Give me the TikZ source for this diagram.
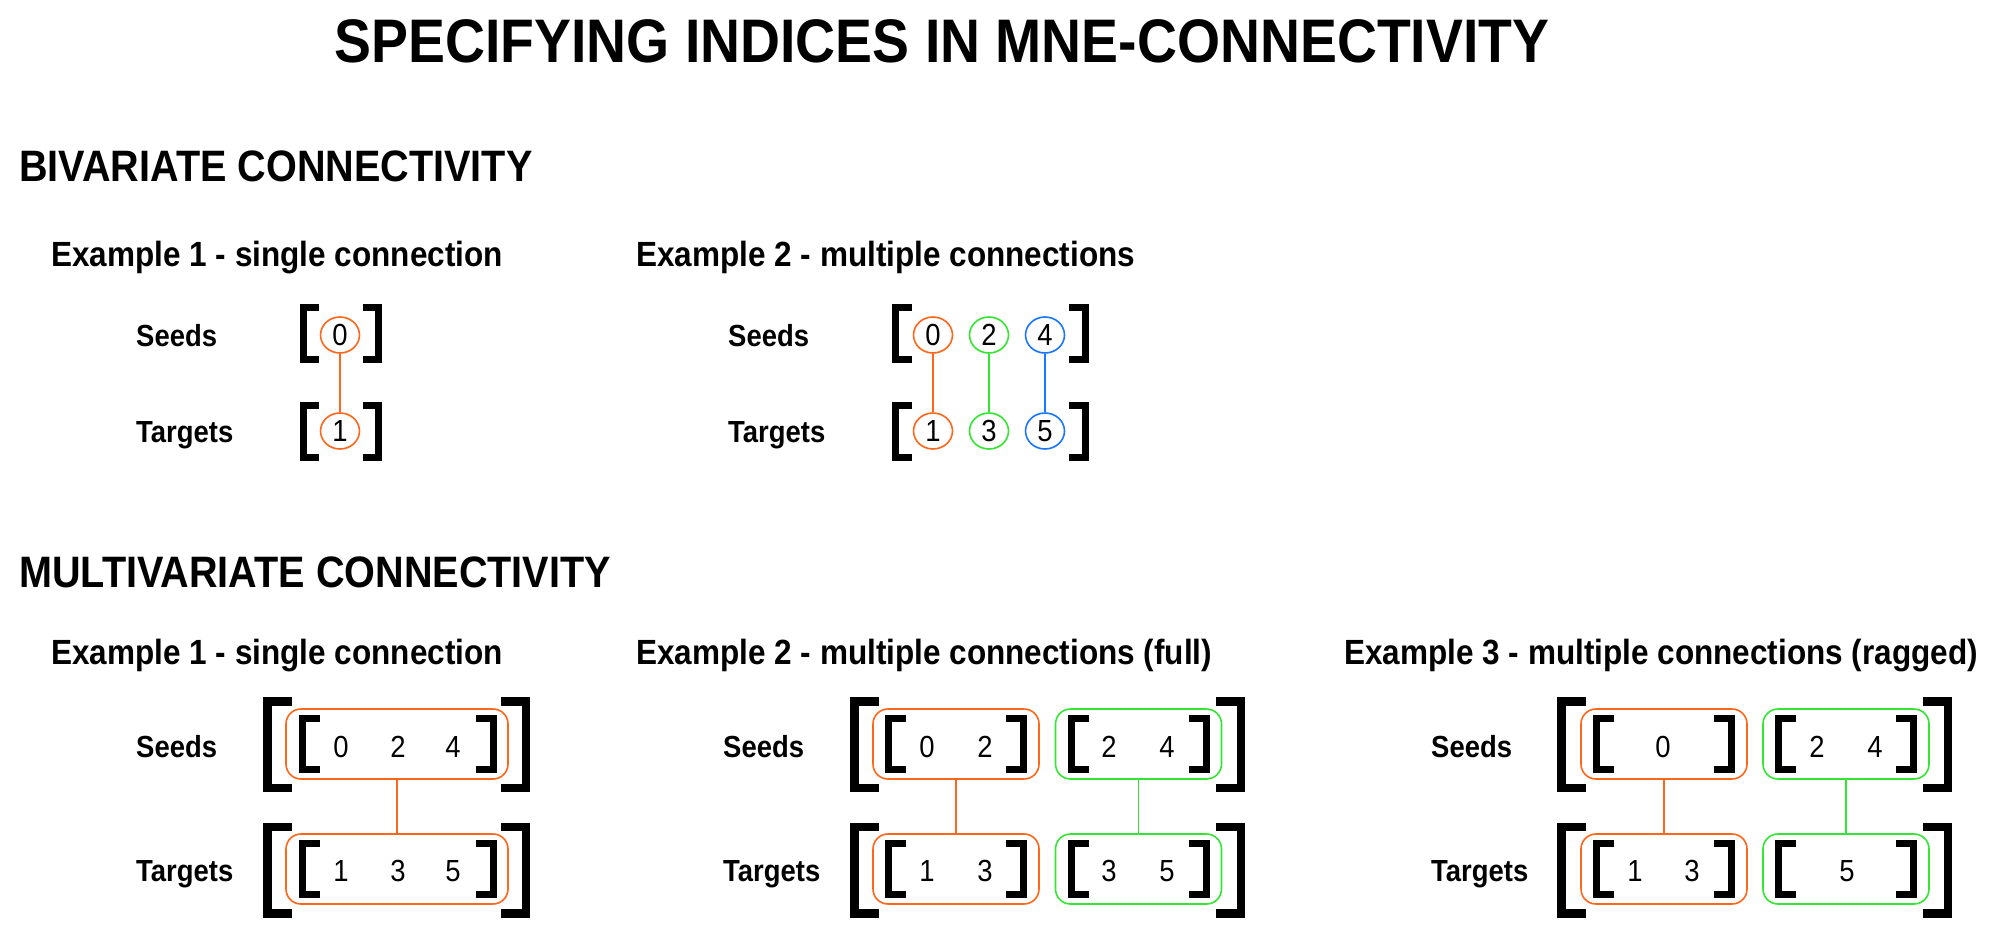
\documentclass[tikz,border=0pt]{standalone}
\usepackage{fontspec}
\setmainfont{Liberation Sans}[FakeStretch=0.9]
\usetikzlibrary{shapes.geometric}

\definecolor{conorange}{RGB}{255,102,26}
\definecolor{congreen}{RGB}{51,230,51}
\definecolor{conblue}{RGB}{26,117,255}

% square brackets round a row: half width, half height, serif length
\tikzset{
pics/brackets/.style n args={3}{code={
\draw (-#1+#3,-#2) -- (-#1,-#2) -- (-#1,#2) -- (-#1+#3,#2)
      (#1-#3,-#2) -- (#1,-#2) -- (#1,#2) -- (#1-#3,#2);
}}
}

\begin{document}
\begin{tikzpicture}[
x=1pt, y=-1pt,
every node/.style={inner sep=0pt},
heading/.style={font=\fontsize{61.5}{70}\selectfont\bfseries, anchor=base},
section/.style={font=\fontsize{44}{50}\selectfont\bfseries, anchor=base west},
example/.style={font=\fontsize{35}{42}\selectfont\bfseries, anchor=base west},
rowname/.style={font=\fontsize{30.5}{36}\selectfont\bfseries, anchor=base west},
index/.style={font=\fontsize{30.5}{34}\selectfont},
ring/.style={ellipse, draw=#1, line width=1.6pt, minimum width=39pt, minimum height=36pt, index},
group/.style={draw=#1, line width=1.6pt, rounded corners=15pt, minimum height=70pt},
link/.style={draw=#1, line width=1.6pt},
brk/.style={line width=7pt},
bigbrk/.style={line width=8.5pt}
]
\useasboundingbox (0,0) rectangle (2000,937);

% ------------------------
% Titles
% ------------------------
\node[heading] (title) at (942,62) {SPECIFYING INDICES IN MNE-CONNECTIVITY};
\node[section] (bivar) at (19,181) {BIVARIATE CONNECTIVITY};
\node[section] (multivar) at (19,587) {MULTIVARIATE CONNECTIVITY};

% ------------------------
% Bivariate, example 1
% ------------------------
\node[example] (bex1) at (51,266) {Example 1 - single connection};
\node[rowname] (bex1seeds) at (136,346) {Seeds};
\node[rowname] (bex1targets) at (136,442) {Targets};

\node[ring=conorange] (b1s0) at (340,335) {0};
\node[ring=conorange] (b1t1) at (340,431) {1};
\draw[link=conorange] (b1s0) -- (b1t1);

\pic[brk] at (341,333.5) {brackets={37.5}{26}{15.5}};
\pic[brk] at (341,431.5) {brackets={37.5}{26}{15.5}};

% ------------------------
% Bivariate, example 2
% ------------------------
\node[example] (bex2) at (636,266) {Example 2 - multiple connections};
\node[rowname] (bex2seeds) at (728,346) {Seeds};
\node[rowname] (bex2targets) at (728,442) {Targets};

\node[ring=conorange] (b2s0) at (933,335) {0};
\node[ring=congreen] (b2s2) at (989,335) {2};
\node[ring=conblue] (b2s4) at (1045,335) {4};
\node[ring=conorange] (b2t1) at (933,431) {1};
\node[ring=congreen] (b2t3) at (989,431) {3};
\node[ring=conblue] (b2t5) at (1045,431) {5};
\draw[link=conorange] (b2s0) -- (b2t1);
\draw[link=congreen] (b2s2) -- (b2t3);
\draw[link=conblue] (b2s4) -- (b2t5);

\pic[brk] at (990.5,333.5) {brackets={95}{26}{16.5}};
\pic[brk] at (990.5,431.5) {brackets={95}{26}{16.5}};

% ------------------------
% Multivariate, example 1
% ------------------------
\node[example] (mex1) at (51,664) {Example 1 - single connection};
\node[rowname] (mex1seeds) at (136,757) {Seeds};
\node[rowname] (mex1targets) at (136,881) {Targets};

\node[group=conorange, minimum width=222pt] (m1s) at (397,744) {};
\node[group=conorange, minimum width=222pt] (m1t) at (397,869) {};
\draw[link=conorange] (m1s) -- (m1t);

\node[index] (m1s0) at (341,746.5) {0};
\node[index] (m1s2) at (398,746.5) {2};
\node[index] (m1s4) at (453,746.5) {4};
\node[index] (m1t1) at (341,871) {1};
\node[index] (m1t3) at (398,871) {3};
\node[index] (m1t5) at (453,871) {5};

\pic[brk] at (398,744) {brackets={95.5}{25.5}{17.5}};
\pic[brk] at (398,869) {brackets={95.5}{25.5}{17.5}};
\pic[bigbrk] at (396.5,744.5) {brackets={129.25}{43.25}{24.75}};
\pic[bigbrk] at (396.5,870) {brackets={129.25}{43.25}{24.75}};

% ------------------------
% Multivariate, example 2
% ------------------------
\node[example] (mex2) at (636,664) {Example 2 - multiple connections (full)};
\node[rowname] (mex2seeds) at (723,757) {Seeds};
\node[rowname] (mex2targets) at (723,881) {Targets};

\node[group=conorange, minimum width=166pt] (m2sa) at (956,744) {};
\node[group=congreen, minimum width=166pt] (m2sb) at (1138.5,744) {};
\node[group=conorange, minimum width=166pt] (m2ta) at (956,869) {};
\node[group=congreen, minimum width=166pt] (m2tb) at (1138.5,869) {};
\draw[link=conorange] (m2sa) -- (m2ta);
\draw[link=congreen] (m2sb) -- (m2tb);

\node[index] (m2s0) at (927,746.5) {0};
\node[index] (m2s2) at (985,746.5) {2};
\node[index] (m2s2b) at (1109,746.5) {2};
\node[index] (m2s4) at (1167,746.5) {4};
\node[index] (m2t1) at (927,871) {1};
\node[index] (m2t3) at (985,871) {3};
\node[index] (m2t3b) at (1109,871) {3};
\node[index] (m2t5) at (1167,871) {5};

\pic[brk] at (956,744) {brackets={67.5}{25.5}{17.5}};
\pic[brk] at (1138.5,744) {brackets={67.5}{25.5}{17.5}};
\pic[brk] at (956,869) {brackets={67.5}{25.5}{17.5}};
\pic[brk] at (1138.5,869) {brackets={67.5}{25.5}{17.5}};
\pic[bigbrk] at (1047.5,744.5) {brackets={193.25}{43.25}{24.75}};
\pic[bigbrk] at (1047.5,870) {brackets={193.25}{43.25}{24.75}};

% ------------------------
% Multivariate, example 3
% ------------------------
\node[example] (mex3) at (1344,664) {Example 3 - multiple connections (ragged)};
\node[rowname] (mex3seeds) at (1431,757) {Seeds};
\node[rowname] (mex3targets) at (1431,881) {Targets};

\node[group=conorange, minimum width=166pt] (m3sa) at (1664,744) {};
\node[group=congreen, minimum width=166pt] (m3sb) at (1846,744) {};
\node[group=conorange, minimum width=166pt] (m3ta) at (1664,869) {};
\node[group=congreen, minimum width=166pt] (m3tb) at (1846,869) {};
\draw[link=conorange] (m3sa) -- (m3ta);
\draw[link=congreen] (m3sb) -- (m3tb);

\node[index] (m3s0) at (1663,746.5) {0};
\node[index] (m3s2) at (1817,746.5) {2};
\node[index] (m3s4) at (1875,746.5) {4};
\node[index] (m3t1) at (1635,871) {1};
\node[index] (m3t3) at (1692,871) {3};
\node[index] (m3t5) at (1847,871) {5};

\pic[brk] at (1664,744) {brackets={67.5}{25.5}{17.5}};
\pic[brk] at (1846,744) {brackets={67.5}{25.5}{17.5}};
\pic[brk] at (1664,869) {brackets={67.5}{25.5}{17.5}};
\pic[brk] at (1846,869) {brackets={67.5}{25.5}{17.5}};
\pic[bigbrk] at (1754.5,744.5) {brackets={193.25}{43.25}{24.75}};
\pic[bigbrk] at (1754.5,870) {brackets={193.25}{43.25}{24.75}};

\end{tikzpicture}
\end{document}
